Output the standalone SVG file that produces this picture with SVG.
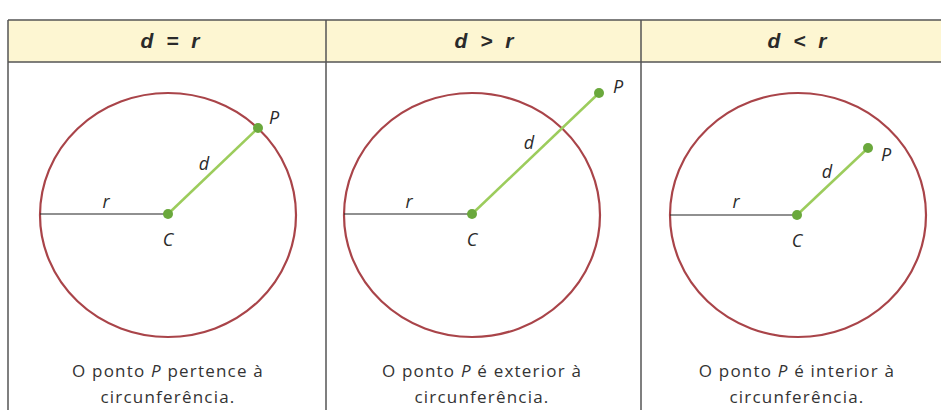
<svg xmlns="http://www.w3.org/2000/svg" width="941" height="410" viewBox="0 0 941 410">
<style>
.hdr{font-family:"Liberation Sans",Arial,sans-serif;font-size:21px;font-weight:bold;font-style:italic;fill:#2a2a2a;text-anchor:middle;word-spacing:7px}
.lbl{font-family:"Open Sans","Liberation Sans",sans-serif;font-size:18px;font-style:italic;fill:#2a2a2a;text-anchor:middle}
.cap{font-family:"Open Sans","Liberation Sans",sans-serif;font-size:17px;fill:#333;text-anchor:middle;letter-spacing:1.2px}
.circ{fill:none;stroke:#a94449;stroke-width:2.2}
.rad{stroke:#222;stroke-width:1.2}
.dl{stroke:#9ccc5c;stroke-width:2.5}
.pt{fill:#6aa83c}
.grid{stroke:#555;stroke-width:1.5;fill:none}
</style>
<rect x="8" y="20" width="933" height="42" fill="#fdf6d2"/>
<g id="table">
<line class="grid" x1="8" y1="20" x2="941" y2="20" stroke-width="2"/>
<line class="grid" x1="8" y1="62" x2="941" y2="62" stroke-width="2"/>
<line class="grid" x1="8" y1="20" x2="8" y2="410"/>
<line class="grid" x1="326" y1="20" x2="326" y2="410"/>
<line class="grid" x1="641" y1="20" x2="641" y2="410"/>
</g>
<g id="headers">
<text class="hdr" x="170" y="48">d = r</text>
<text class="hdr" x="484" y="48">d &gt; r</text>
<text class="hdr" x="797" y="48">d &lt; r</text>
</g>
<g id="panel1">
<ellipse class="circ" cx="168" cy="215" rx="128" ry="122"/>
<line class="rad" x1="40" y1="214" x2="168" y2="214"/>
<line class="dl" x1="168" y1="214" x2="258" y2="128"/>
<circle class="pt" cx="168" cy="214" r="5"/>
<circle class="pt" cx="258" cy="128" r="5"/>
<text class="lbl" x="274" y="124">P</text>
<text class="lbl" x="204" y="170">d</text>
<text class="lbl" x="106" y="208">r</text>
<text class="lbl" x="168" y="246">C</text>
<text class="cap" x="168" y="377">O ponto <tspan font-style="italic">P</tspan> pertence à</text>
<text class="cap" x="168" y="403">circunferência.</text>
</g>
<g id="panel2">
<ellipse class="circ" cx="472" cy="215" rx="128" ry="122"/>
<line class="rad" x1="344" y1="214" x2="472" y2="214"/>
<line class="dl" x1="472" y1="214" x2="599" y2="93"/>
<circle class="pt" cx="472" cy="214" r="5"/>
<circle class="pt" cx="599" cy="93" r="5"/>
<text class="lbl" x="618" y="93">P</text>
<text class="lbl" x="529" y="149">d</text>
<text class="lbl" x="409" y="208">r</text>
<text class="lbl" x="472" y="246">C</text>
<text class="cap" x="482" y="377">O ponto <tspan font-style="italic">P</tspan> é exterior à</text>
<text class="cap" x="482" y="403">circunferência.</text>
</g>
<g id="panel3">
<ellipse class="circ" cx="798" cy="215" rx="128" ry="122"/>
<line class="rad" x1="670" y1="215" x2="797" y2="215"/>
<line class="dl" x1="797" y1="215" x2="868" y2="148"/>
<circle class="pt" cx="797" cy="215" r="5"/>
<circle class="pt" cx="868" cy="148" r="5"/>
<text class="lbl" x="886" y="161">P</text>
<text class="lbl" x="827" y="178">d</text>
<text class="lbl" x="736" y="208">r</text>
<text class="lbl" x="797" y="247">C</text>
<text class="cap" x="797" y="377">O ponto <tspan font-style="italic">P</tspan> é interior à</text>
<text class="cap" x="797" y="403">circunferência.</text>
</g>
</svg>
